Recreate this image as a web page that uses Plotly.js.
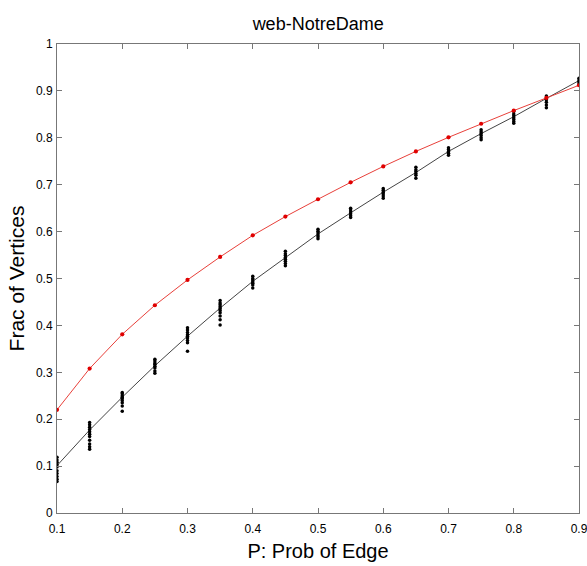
<!DOCTYPE html>
<html>
<head>
<meta charset="utf-8">
<script src="https://cdn.plot.ly/plotly-3.0.1.min.js"></script>
<style>html,body{margin:0;padding:0;background:#fff;}#chart{width:587px;height:566px;}</style>
</head>
<body>
<div id="chart"></div>
<script>
const probs = [0.1,0.15,0.2,0.25,0.3,0.35,0.4,0.45,0.5,0.55,0.6,0.65,0.7,0.75,0.8,0.85,0.9];
const redValues = [0.22,0.308,0.381,0.443,0.497,0.546,0.592,0.632,0.669,0.705,0.739,0.771,0.801,0.830,0.858,0.885,0.912];
const blackMean = [0.101,0.177,0.247,0.314,0.377,0.437,0.494,0.545,0.595,0.640,0.684,0.726,0.771,0.809,0.845,0.884,0.922];
const trials = [
  [0.119,0.113,0.108,0.103,0.098,0.090,0.084,0.078,0.072,0.067],
  [0.193,0.188,0.183,0.178,0.173,0.168,0.163,0.155,0.147,0.141,0.136],
  [0.257,0.254,0.250,0.247,0.244,0.240,0.235,0.228,0.217],
  [0.328,0.324,0.320,0.317,0.313,0.309,0.303,0.298],
  [0.395,0.390,0.385,0.380,0.377,0.373,0.368,0.363,0.345],
  [0.453,0.448,0.444,0.440,0.436,0.432,0.427,0.420,0.412,0.401],
  [0.505,0.500,0.497,0.493,0.490,0.486,0.480],
  [0.558,0.553,0.549,0.545,0.541,0.537,0.532,0.527],
  [0.605,0.601,0.597,0.593,0.589,0.585],
  [0.650,0.646,0.642,0.638,0.634,0.630],
  [0.692,0.688,0.684,0.680,0.676,0.671],
  [0.737,0.732,0.728,0.724,0.720,0.714],
  [0.779,0.775,0.771,0.767,0.763],
  [0.817,0.813,0.809,0.805,0.800,0.796],
  [0.856,0.851,0.847,0.843,0.839,0.835,0.831],
  [0.889,0.885,0.881,0.876,0.870,0.864],
  [0.927,0.923,0.920,0.917,0.913]
];
const tx = [], ty = [];
trials.forEach((arr,i)=>arr.forEach(v=>{tx.push(probs[i]); ty.push(v);}));

const font = 'Liberation Sans, Arial, Helvetica, sans-serif';
const data = [
  {x: probs, y: blackMean, mode:'lines', line:{color:'#444', width:1}, hoverinfo:'skip'},
  {x: tx, y: ty, mode:'markers', marker:{color:'#000', size:3.5, symbol:'circle'}},
  {x: probs, y: redValues, mode:'lines+markers', line:{color:'#e8403a', width:1}, marker:{color:'#e00000', size:4.2, symbol:'circle'}}
];
const axisCommon = {
  showgrid:false, zeroline:false, showline:true, linecolor:'#777', linewidth:1, mirror:'ticks',
  ticks:'inside', ticklen:5, tickcolor:'#777', tickfont:{family:font, size:12, color:'#000'},
  ticklabeloverflow:'allow'
};
const layout = {
  width:587, height:566,
  margin:{l:57, r:8, t:44, b:53},
  showlegend:false,
  paper_bgcolor:'#fff', plot_bgcolor:'#fff',
  title:{text:'web-NotreDame', font:{family:font, size:18, color:'#000'}, x:0.542, xanchor:'center', y:0.958, yanchor:'middle'},
  xaxis:Object.assign({}, axisCommon, {range:[0.1,0.9], dtick:0.1, tick0:0.1, ticklabelstandoff:5,
    title:{text:'P: Prob of Edge', font:{family:font, size:20, color:'#000'}, standoff:8}}),
  yaxis:Object.assign({}, axisCommon, {range:[0,1], dtick:0.1, tick0:0, ticklabelstandoff:1,
    title:{text:'Frac of Vertices', font:{family:font, size:21, color:'#000'}, standoff:5}})
};
Plotly.newPlot('chart', data, layout, {displayModeBar:false, staticPlot:true});
</script>
</body>
</html>
